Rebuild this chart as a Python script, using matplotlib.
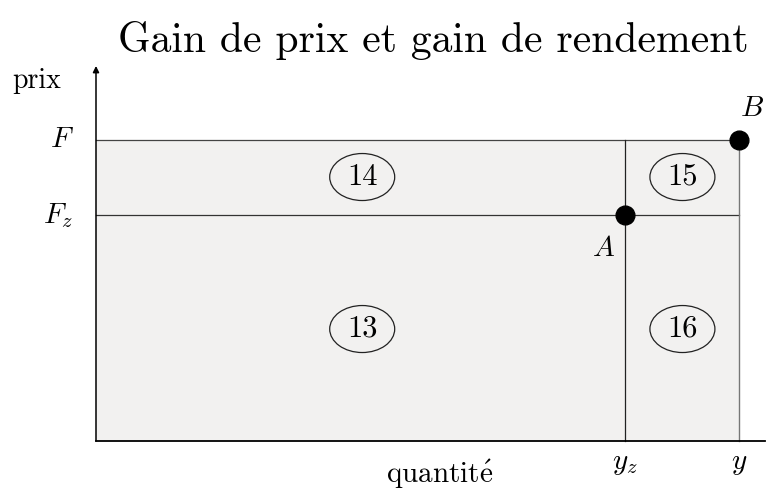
import numpy as np
import matplotlib
matplotlib.use('Agg')
import matplotlib.pyplot as plt
from matplotlib.patches import Rectangle, Ellipse

plt.rcParams['mathtext.fontset'] = 'cm'
plt.rcParams['font.family'] = ['cmr10', 'DejaVu Serif']
plt.rcParams['axes.formatter.use_mathtext'] = True

# quantities and prices (relative units)
q_labels = [r'$y_z$', r'$y$']
q_values = [0.823, 1.0]
p_labels = [r'$F_z$', r'$F$']
p_values = [0.75, 1.0]

# numbered areas: (label, x centre, y centre)
zone_labels = ['13', '14', '15', '16']
zone_x = [0.414, 0.414, 0.912, 0.912]
zone_y = [0.372, 0.877, 0.877, 0.372]

points = [r'$A$', r'$B$']
point_x = [q_values[0], q_values[1]]
point_y = [p_values[0], p_values[1]]

fig = plt.figure(figsize=(7.68, 4.91), dpi=100)
ax = fig.add_axes([0, 0, 1, 1])
ax.set_xlim(-96 / 643, 672 / 643)
ax.set_ylim(-50 / 301, 441 / 301)
ax.axis('off')

yz, yq = q_values
fz, fp = p_values

# shaded area
ax.add_patch(Rectangle((0, 0), yq, fp, facecolor='#f2f1f0', edgecolor='none', zorder=0))

ax.plot([0, yq], [fp, fp], color='#444444', lw=0.9)
ax.plot([0, yq], [fz, fz], color='#333333', lw=0.9)
ax.plot([yz, yz], [0, fp], color='#222222', lw=0.9)
ax.plot([yq, yq], [0, fp], color='#777777', lw=1.0)

# axes
ax.plot([0, 1.041], [0, 0], color='black', lw=1.3)
ax.annotate('', xy=(0, 1.246), xytext=(0, 0),
            arrowprops=dict(arrowstyle='-|>', color='black', lw=1.1,
                            mutation_scale=9, shrinkA=0, shrinkB=0))

for lab, zx, zy in zip(zone_labels, zone_x, zone_y):
    ax.add_patch(Ellipse((zx, zy), 65 / 643, 47 / 301, facecolor='none',
                         edgecolor='#222222', lw=0.9))
    ax.text(zx, zy, lab, fontsize=22, ha='center', va='center')

ax.plot(point_x, point_y, 'o', color='black', ms=13.5, zorder=5)
ax.text(point_x[0] - 0.034, point_y[0] - 0.11, points[0], fontsize=21, ha='center', va='center')
ax.text(point_x[1] + 0.02, point_y[1] + 0.105, points[1], fontsize=21, ha='center', va='center')

for lab, pv in zip(p_labels, p_values):
    ax.text(-0.035, pv, lab, fontsize=21, ha='right', va='center')
for lab, qv in zip(q_labels, q_values):
    ax.text(qv, -0.075, lab, fontsize=21, ha='center', va='center')

ax.text(-0.13, 1.195, 'prix', fontsize=20, ha='left', va='center')
ax.text(0.535, -0.11, r'$\mathrm{quantit\acute{e}}$', fontsize=21, ha='center', va='center')
ax.text(0.525, 1.33, 'Gain de prix et gain de rendement', fontsize=30,
        ha='center', va='center')

fig.savefig('out.png', dpi=100)
